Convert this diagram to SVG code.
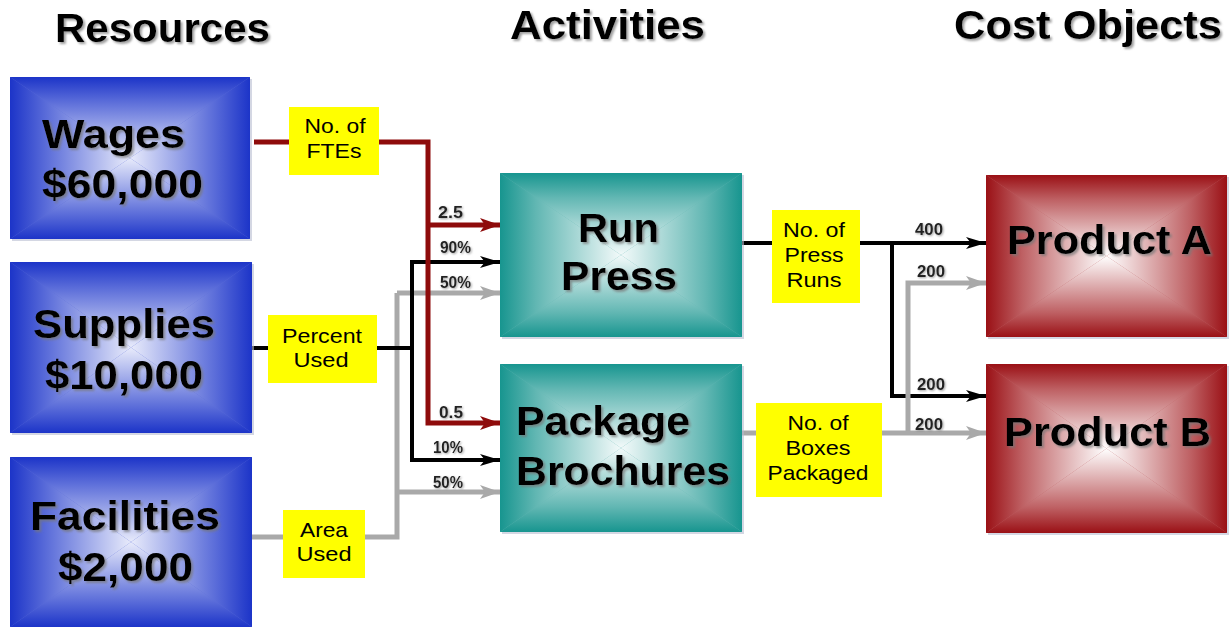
<svg xmlns="http://www.w3.org/2000/svg" xmlns:xlink="http://www.w3.org/1999/xlink" width="1230" height="627" viewBox="0 0 1230 627">
<style>
.title{font-family:"Liberation Sans",Arial,sans-serif;font-weight:bold;font-size:40px;fill:#000;filter:url(#ts)}
.node{font-family:"Liberation Sans",Arial,sans-serif;font-weight:bold;font-size:40px;fill:#000;filter:url(#ts)}
.lbl{font-family:"Liberation Sans",Arial,sans-serif;font-size:21px;fill:#000;text-anchor:middle}
.num{font-family:"Liberation Sans",Arial,sans-serif;font-weight:bold;font-size:16px;fill:#222;filter:url(#ts2)}
.ylw{fill:#ffff00}
.red{stroke:#8e0b0b;stroke-width:5;fill:none}
.blk{stroke:#000;stroke-width:4;fill:none}
.gry{stroke:#a9a9a9;stroke-width:5;fill:none}
.shd{fill:#b8bcd0;opacity:.6}
</style>
<defs>
<filter id="ts" x="-10%" y="-20%" width="130%" height="150%">
<feDropShadow dx="2" dy="2" stdDeviation="1.2" flood-color="#777" flood-opacity="0.7"/>
</filter>
<filter id="ts2" x="-20%" y="-30%" width="150%" height="170%">
<feDropShadow dx="1" dy="1" stdDeviation="0.8" flood-color="#888" flood-opacity="0.8"/>
</filter>
<linearGradient id="bS"><stop offset="0" stop-color="#1c34c8"/><stop offset="0.3" stop-color="#5a6cd9"/><stop offset="1" stop-color="#e8ebfb"/></linearGradient>
<linearGradient id="tS"><stop offset="0" stop-color="#17958f"/><stop offset="0.3" stop-color="#62b7b3"/><stop offset="1" stop-color="#f3fafa"/></linearGradient>
<linearGradient id="rS"><stop offset="0" stop-color="#9a1015"/><stop offset="0.3" stop-color="#be6063"/><stop offset="1" stop-color="#ffffff"/></linearGradient>
<linearGradient id="bT" xlink:href="#bS" x1="0" y1="0" x2="0" y2="1"/>
<linearGradient id="bB" xlink:href="#bS" x1="0" y1="1" x2="0" y2="0"/>
<linearGradient id="bL" xlink:href="#bS" x1="0" y1="0" x2="1" y2="0"/>
<linearGradient id="bR" xlink:href="#bS" x1="1" y1="0" x2="0" y2="0"/>
<linearGradient id="tT" xlink:href="#tS" x1="0" y1="0" x2="0" y2="1"/>
<linearGradient id="tB" xlink:href="#tS" x1="0" y1="1" x2="0" y2="0"/>
<linearGradient id="tL" xlink:href="#tS" x1="0" y1="0" x2="1" y2="0"/>
<linearGradient id="tR" xlink:href="#tS" x1="1" y1="0" x2="0" y2="0"/>
<linearGradient id="rT" xlink:href="#rS" x1="0" y1="0" x2="0" y2="1"/>
<linearGradient id="rB" xlink:href="#rS" x1="0" y1="1" x2="0" y2="0"/>
<linearGradient id="rL" xlink:href="#rS" x1="0" y1="0" x2="1" y2="0"/>
<linearGradient id="rR" xlink:href="#rS" x1="1" y1="0" x2="0" y2="0"/>
<marker id="aR" markerUnits="userSpaceOnUse" markerWidth="22" markerHeight="16" refX="20" refY="7" orient="auto"><path d="M0,0 L20,7 L0,14 L5,7 z" fill="#8e0b0b"/></marker>
<marker id="aB" markerUnits="userSpaceOnUse" markerWidth="22" markerHeight="16" refX="20" refY="6" orient="auto"><path d="M0,0 L20,6 L0,12 L5,6 z" fill="#000"/></marker>
<marker id="aG" markerUnits="userSpaceOnUse" markerWidth="22" markerHeight="16" refX="20" refY="7" orient="auto"><path d="M0,0 L20,7 L0,14 L5,7 z" fill="#a9a9a9"/></marker>
</defs>
<rect width="1230" height="627" fill="#fff"/>

<g id="titles">
<text class="title" x="55" y="42" textLength="215" lengthAdjust="spacingAndGlyphs">Resources</text>
<text class="title" x="510" y="39" textLength="195" lengthAdjust="spacingAndGlyphs">Activities</text>
<text class="title" x="954" y="39" textLength="268" lengthAdjust="spacingAndGlyphs">Cost Objects</text>
</g>

<g id="connectors">
<path class="gry" d="M252,537 H397 V293"/>
<path class="gry" d="M397,293 H500" marker-end="url(#aG)"/>
<path class="gry" d="M397,492 H500" marker-end="url(#aG)"/>
<path class="blk" d="M252,348 H412 V460"/>
<path class="blk" d="M412,262 V348"/>
<path class="blk" d="M410,262 H500" marker-end="url(#aB)"/>
<path class="blk" d="M410,460 H500" marker-end="url(#aB)"/>
<path class="red" d="M254,142 H428 V423 H500" marker-end="url(#aR)"/>
<path class="red" d="M428,225 H500" marker-end="url(#aR)"/>
<path class="blk" d="M742,243 H986" marker-end="url(#aB)"/>
<path class="blk" d="M892,241 V396 H986" marker-end="url(#aB)"/>
<path class="gry" d="M742,433 H986" marker-end="url(#aG)"/>
<path class="gry" d="M908,433 V283 H986" marker-end="url(#aG)"/>
<text class="num" x="438" y="218" textLength="25" lengthAdjust="spacingAndGlyphs">2.5</text>
<text class="num" x="440" y="253" textLength="31" lengthAdjust="spacingAndGlyphs">90%</text>
<text class="num" x="440" y="288" textLength="31" lengthAdjust="spacingAndGlyphs">50%</text>
<text class="num" x="439" y="418" textLength="24" lengthAdjust="spacingAndGlyphs">0.5</text>
<text class="num" x="433" y="453" textLength="30" lengthAdjust="spacingAndGlyphs">10%</text>
<text class="num" x="433" y="488" textLength="30" lengthAdjust="spacingAndGlyphs">50%</text>
<text class="num" x="915" y="235" textLength="28" lengthAdjust="spacingAndGlyphs">400</text>
<text class="num" x="917" y="277" textLength="28" lengthAdjust="spacingAndGlyphs">200</text>
<text class="num" x="917" y="390" textLength="28" lengthAdjust="spacingAndGlyphs">200</text>
<text class="num" x="915" y="430" textLength="28" lengthAdjust="spacingAndGlyphs">200</text>
</g>

<g id="lbl-ftes">
<rect class="ylw" x="289" y="107" width="90" height="68"/>
<text class="lbl" x="335" y="133" textLength="61" lengthAdjust="spacingAndGlyphs">No. of</text>
<text class="lbl" x="334" y="158" textLength="55" lengthAdjust="spacingAndGlyphs">FTEs</text>
</g>
<g id="lbl-percent">
<rect class="ylw" x="268" y="315" width="109" height="68"/>
<text class="lbl" x="322" y="343" textLength="80" lengthAdjust="spacingAndGlyphs">Percent</text>
<text class="lbl" x="321" y="367" textLength="55" lengthAdjust="spacingAndGlyphs">Used</text>
</g>
<g id="lbl-area">
<rect class="ylw" x="283" y="510" width="82" height="68"/>
<text class="lbl" x="324" y="537" textLength="48" lengthAdjust="spacingAndGlyphs">Area</text>
<text class="lbl" x="324" y="561" textLength="55" lengthAdjust="spacingAndGlyphs">Used</text>
</g>
<g id="lbl-pressruns">
<rect class="ylw" x="772" y="210" width="88" height="93"/>
<text class="lbl" x="814" y="237" textLength="62" lengthAdjust="spacingAndGlyphs">No. of</text>
<text class="lbl" x="814" y="262" textLength="59" lengthAdjust="spacingAndGlyphs">Press</text>
<text class="lbl" x="814" y="287" textLength="55" lengthAdjust="spacingAndGlyphs">Runs</text>
</g>
<g id="lbl-boxes">
<rect class="ylw" x="756" y="403" width="126" height="94"/>
<text class="lbl" x="818" y="430" textLength="61" lengthAdjust="spacingAndGlyphs">No. of</text>
<text class="lbl" x="818" y="455" textLength="65" lengthAdjust="spacingAndGlyphs">Boxes</text>
<text class="lbl" x="818" y="480" textLength="101" lengthAdjust="spacingAndGlyphs">Packaged</text>
</g>

<g id="wages">
<rect class="shd" x="12" y="79" width="240" height="162"/>
<rect x="10" y="77" width="240" height="162" fill="#5a6cd9"/>
<polygon points="10,77 250,77 130,158" fill="url(#bT)"/>
<polygon points="10,239 250,239 130,158" fill="url(#bB)"/>
<polygon points="10,77 10,239 130,158" fill="url(#bL)"/>
<polygon points="250,77 250,239 130,158" fill="url(#bR)"/>
<text class="node" x="42" y="148" textLength="143" lengthAdjust="spacingAndGlyphs">Wages</text>
<text class="node" x="42" y="198" textLength="161" lengthAdjust="spacingAndGlyphs">$60,000</text>
</g>
<g id="supplies">
<rect class="shd" x="12" y="264" width="242" height="171"/>
<rect x="10" y="262" width="242" height="171" fill="#5a6cd9"/>
<polygon points="10,262 252,262 131,347.5" fill="url(#bT)"/>
<polygon points="10,433 252,433 131,347.5" fill="url(#bB)"/>
<polygon points="10,262 10,433 131,347.5" fill="url(#bL)"/>
<polygon points="252,262 252,433 131,347.5" fill="url(#bR)"/>
<text class="node" x="33" y="338" textLength="182" lengthAdjust="spacingAndGlyphs">Supplies</text>
<text class="node" x="45" y="389" textLength="158" lengthAdjust="spacingAndGlyphs">$10,000</text>
</g>
<g id="facilities">
<rect x="10" y="457" width="242" height="170" fill="#5a6cd9"/>
<polygon points="10,457 252,457 131,542" fill="url(#bT)"/>
<polygon points="10,627 252,627 131,542" fill="url(#bB)"/>
<polygon points="10,457 10,627 131,542" fill="url(#bL)"/>
<polygon points="252,457 252,627 131,542" fill="url(#bR)"/>
<text class="node" x="30" y="530" textLength="190" lengthAdjust="spacingAndGlyphs">Facilities</text>
<text class="node" x="58" y="581" textLength="135" lengthAdjust="spacingAndGlyphs">$2,000</text>
</g>
<g id="runpress">
<rect class="shd" x="502" y="175" width="242" height="164"/>
<rect x="500" y="173" width="242" height="164" fill="#62b7b3"/>
<polygon points="500,173 742,173 621,255" fill="url(#tT)"/>
<polygon points="500,337 742,337 621,255" fill="url(#tB)"/>
<polygon points="500,173 500,337 621,255" fill="url(#tL)"/>
<polygon points="742,173 742,337 621,255" fill="url(#tR)"/>
<text class="node" x="578" y="242" textLength="81" lengthAdjust="spacingAndGlyphs">Run</text>
<text class="node" x="561" y="290" textLength="116" lengthAdjust="spacingAndGlyphs">Press</text>
</g>
<g id="package">
<rect class="shd" x="502" y="366" width="242" height="168"/>
<rect x="500" y="364" width="242" height="168" fill="#62b7b3"/>
<polygon points="500,364 742,364 621,448" fill="url(#tT)"/>
<polygon points="500,532 742,532 621,448" fill="url(#tB)"/>
<polygon points="500,364 500,532 621,448" fill="url(#tL)"/>
<polygon points="742,364 742,532 621,448" fill="url(#tR)"/>
<text class="node" x="516" y="435" textLength="174" lengthAdjust="spacingAndGlyphs">Package</text>
<text class="node" x="516" y="485" textLength="214" lengthAdjust="spacingAndGlyphs">Brochures</text>
</g>
<g id="producta">
<rect class="shd" x="988" y="177" width="241" height="162"/>
<rect x="986" y="175" width="241" height="162" fill="#be6063"/>
<polygon points="986,175 1227,175 1106.5,256" fill="url(#rT)"/>
<polygon points="986,337 1227,337 1106.5,256" fill="url(#rB)"/>
<polygon points="986,175 986,337 1106.5,256" fill="url(#rL)"/>
<polygon points="1227,175 1227,337 1106.5,256" fill="url(#rR)"/>
<text class="node" x="1007" y="254" textLength="205" lengthAdjust="spacingAndGlyphs">Product A</text>
</g>
<g id="productb">
<rect class="shd" x="988" y="366" width="241" height="169"/>
<rect x="986" y="364" width="241" height="169" fill="#be6063"/>
<polygon points="986,364 1227,364 1106.5,448.5" fill="url(#rT)"/>
<polygon points="986,533 1227,533 1106.5,448.5" fill="url(#rB)"/>
<polygon points="986,364 986,533 1106.5,448.5" fill="url(#rL)"/>
<polygon points="1227,364 1227,533 1106.5,448.5" fill="url(#rR)"/>
<text class="node" x="1004" y="446" textLength="207" lengthAdjust="spacingAndGlyphs">Product B</text>
</g>
</svg>
